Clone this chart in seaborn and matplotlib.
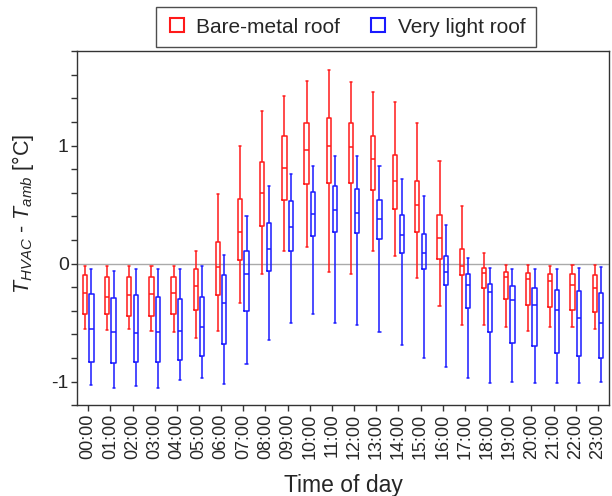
import numpy as np
import pandas as pd
import matplotlib
matplotlib.use("Agg")
import matplotlib.pyplot as plt
from matplotlib.lines import Line2D
from matplotlib.ticker import MultipleLocator
import seaborn as sns

hours = [f"{h:02d}:00" for h in range(24)]
groups = ["Bare-metal roof", "Very light roof"]

# Bare-metal roof: whisker min, Q1, median, Q3, whisker max
red_min = [-0.55, -0.56, -0.55, -0.57, -0.58, -0.63, -0.57, -0.33, -0.09, 0.11, 0.14, -0.07,
           -0.09, 0.11, 0.06, -0.12, -0.36, -0.52, -0.52, -0.54, -0.57, -0.54, -0.54, -0.55]
red_q1 = [-0.43, -0.43, -0.44, -0.44, -0.43, -0.39, -0.27, 0.03, 0.32, 0.54, 0.67, 0.68,
          0.68, 0.62, 0.46, 0.27, 0.04, -0.10, -0.21, -0.30, -0.35, -0.37, -0.39, -0.41]
red_med = [-0.25, -0.28, -0.27, -0.26, -0.25, -0.19, -0.03, 0.27, 0.60, 0.81, 0.96, 1.00,
           0.99, 0.89, 0.70, 0.50, 0.22, -0.02, -0.08, -0.11, -0.13, -0.15, -0.18, -0.21]
red_q3 = [-0.10, -0.11, -0.11, -0.11, -0.11, -0.05, 0.18, 0.55, 0.86, 1.08, 1.19, 1.23,
          1.19, 1.08, 0.92, 0.70, 0.41, 0.12, -0.04, -0.07, -0.08, -0.09, -0.09, -0.10]
red_max = [-0.02, -0.02, -0.02, -0.02, -0.02, 0.11, 0.59, 1.00, 1.29, 1.42, 1.55, 1.64,
           1.54, 1.45, 1.37, 1.19, 0.87, 0.49, 0.09, -0.01, -0.01, -0.02, -0.01, -0.01]

# Very light roof: whisker min, Q1, median, Q3, whisker max
blue_min = [-1.03, -1.05, -1.04, -1.05, -0.99, -0.97, -1.02, -0.85, -0.65, -0.50, -0.43, -0.50,
            -0.52, -0.58, -0.69, -0.80, -0.88, -0.97, -1.01, -1.00, -1.01, -1.01, -1.01, -1.00]
blue_q1 = [-0.83, -0.84, -0.83, -0.83, -0.82, -0.78, -0.68, -0.40, -0.06, 0.11, 0.23, 0.27,
           0.26, 0.21, 0.09, -0.05, -0.18, -0.38, -0.58, -0.67, -0.70, -0.76, -0.78, -0.80]
blue_med = [-0.55, -0.58, -0.59, -0.58, -0.57, -0.54, -0.33, -0.09, 0.12, 0.31, 0.42, 0.45,
            0.43, 0.38, 0.24, 0.09, -0.07, -0.18, -0.24, -0.31, -0.35, -0.39, -0.46, -0.50]
blue_q3 = [-0.26, -0.29, -0.27, -0.28, -0.30, -0.28, -0.10, 0.11, 0.34, 0.53, 0.61, 0.66,
           0.63, 0.54, 0.41, 0.25, 0.06, -0.09, -0.17, -0.19, -0.21, -0.22, -0.23, -0.25]
blue_max = [-0.05, -0.06, -0.05, -0.05, -0.05, -0.02, 0.07, 0.40, 0.66, 0.76, 0.83, 0.91,
            0.91, 0.83, 0.72, 0.57, 0.33, 0.05, -0.04, -0.05, -0.05, -0.05, -0.04, -0.03]

colors = {"Bare-metal roof": "#ff1a1a", "Very light roof": "#1a1aff"}

rows = []
for i, h in enumerate(hours):
    for g, stats in (("Bare-metal roof", (red_min, red_q1, red_med, red_q3, red_max)),
                     ("Very light roof", (blue_min, blue_q1, blue_med, blue_q3, blue_max))):
        for s in stats:
            rows.append({"hour": h, "roof": g, "value": s[i]})
df = pd.DataFrame(rows)

sns.set_style("white")
plt.rcParams["font.family"] = ["Liberation Sans", "DejaVu Sans"]
plt.rcParams["mathtext.fontset"] = "custom"
plt.rcParams["mathtext.rm"] = "Liberation Sans"
plt.rcParams["mathtext.it"] = "Liberation Sans:italic"
plt.rcParams["axes.unicode_minus"] = False

fig = plt.figure(figsize=(6.12, 4.96), dpi=100)
ax = fig.add_axes([0.126, 0.183, 0.869, 0.714])

ax.axhline(0, color="#aaaaaa", lw=1.0, zorder=0)

sns.boxplot(data=df, x="hour", y="value", hue="roof", order=hours, hue_order=groups,
            palette=colors, fill=False, whis=(0, 100), width=0.58, gap=0.34,
            linewidth=1.1, legend=False, ax=ax)

ax.set_xlim(-0.5, 23.5)
ax.set_ylim(-1.2, 1.8)
ax.yaxis.set_minor_locator(MultipleLocator(0.2))
ax.set_yticks([-1, 0, 1])
ax.set_yticklabels(["-1", "0", "1"])
ax.set_xticks(range(24))
ax.set_xticklabels(hours, rotation=90)
ax.tick_params(axis="both", which="both", direction="out", length=4, width=1,
               color="#333333", labelsize=13, left=True, bottom=True, pad=2)
ax.tick_params(axis="y", which="major", labelsize=14)
for sp in ax.spines.values():
    sp.set_color("#333333")
    sp.set_linewidth(1.0)

ax.set_xlabel("Time of day", fontsize=16.5, va="center")
ax.xaxis.set_label_coords(0.5, -0.228)
ax.set_ylabel(r"$T_{HVAC}$ - $T_{amb}$ [°C]", fontsize=15.5, va="center")
ax.yaxis.set_label_coords(-0.102, 0.54)

handles = [Line2D([], [], marker="s", ls="", mfc="none", mec=colors[g], mew=1.5, ms=9.5, label=g)
           for g in groups]
leg = ax.legend(handles=handles, ncol=2, loc="lower center", bbox_to_anchor=(0.505, 1.011),
                borderaxespad=0, fontsize=15, frameon=True, fancybox=False, edgecolor="#222222",
                handletextpad=0.45, columnspacing=1.3, borderpad=0.5, handlelength=1.0)
leg.get_frame().set_linewidth(1.0)

fig.savefig("out.png", dpi=100)
